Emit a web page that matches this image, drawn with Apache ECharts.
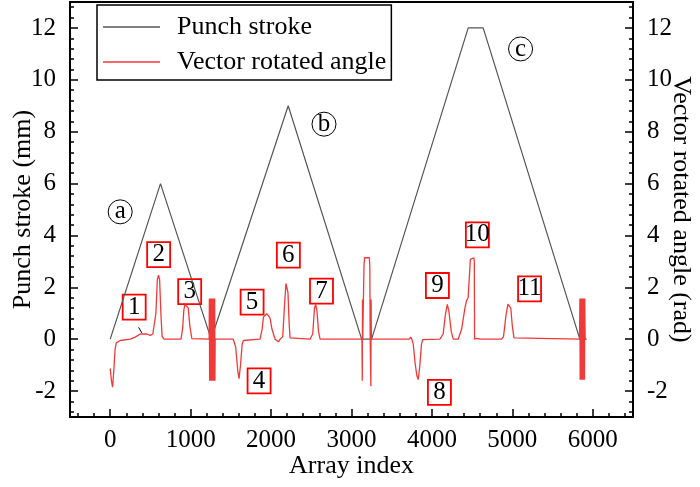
<!DOCTYPE html>
<html>
<head>
<meta charset="utf-8">
<script src="https://cdn.jsdelivr.net/npm/echarts@6/dist/echarts.min.js"></script>
<style>html,body{margin:0;padding:0;background:#fff}#c{width:700px;height:487px}</style>
</head>
<body>
<div id="c"></div>
<script>
// ---- data ----
const punchX = [0, 625, 1255, 2213, 3126, 3250, 4451, 4637, 5839, 5921];
const punchY = [0, 6, 0, 9, 0, 0, 12, 12, 0, 0];

const angleX = [0, 15, 29, 45, 60, 75, 124, 248, 311, 373, 456, 497, 530, 548, 568, 586, 600, 614, 630, 645, 670,
  880, 900, 915, 928, 950, 970, 990, 1015, 1230,
  1233, 1236, 1239, 1242, 1245, 1248, 1251, 1254, 1257, 1260, 1263, 1266, 1269, 1272, 1275, 1278, 1281, 1284, 1287, 1290, 1293, 1296, 1299, 1302,
  1305, 1491, 1511, 1530, 1560, 1585, 1602, 1620, 1640, 1656,
  1863, 1890, 1905, 1946, 1970, 1988, 2010, 2050, 2070, 2091, 2112,
  2145, 2165, 2185, 2195, 2210, 2225, 2236, 2260,
  2484, 2518, 2540, 2555, 2570, 2590, 2609,
  3130, 3134, 3137, 3140, 3143, 3150, 3155, 3162, 3222, 3228, 3232, 3238, 3241, 3244, 3247,
  3720, 3734, 3750, 3768, 3790, 3812, 3830, 3850, 3870, 3884,
  4099, 4140, 4165, 4191, 4210, 4240, 4265, 4286, 4327, 4370, 4410, 4431, 4450, 4478, 4493, 4522, 4527, 4530,
  4560, 4580, 4600, 4866, 4890, 4920, 4945, 4961, 4980, 5000, 5020, 5031, 5835,
  5840, 5843, 5846, 5849, 5852, 5855, 5858, 5861, 5864, 5867, 5870, 5873, 5876, 5879, 5882, 5885, 5888, 5891, 5894, 5897, 5900,
  5905, 5921];
const angleY = [-1.13, -1.6, -1.85, -1.2, -0.4, -0.14, -0.05, 0, 0.08, 0.2, 0.2, 0.15, 0.2, 0.25, 1.0, 2.3, 2.47, 2.3, 1.0, 0.1, 0,
  0, 0.4, 1.1, 1.34, 1.3, 1.2, 0.5, 0.02, 0,
  1.57, -1.6, 1.57, -1.6, 1.57, -1.6, 1.57, -1.6, 1.57, -1.6, 1.57, -1.6, 1.57, -1.6, 1.57, -1.6, 1.57, -1.6, 1.57, -1.6, 1.57, -1.6, 1.57, -1.6,
  0, 0, 0.05, 0, -0.3, -1.2, -1.52, -1.0, -0.2, -0.05,
  0, 0.4, 0.85, 0.98, 0.9, 0.8, 0.4, 0, -0.05, -0.1, 0,
  0.1, 1.2, 2.15, 2.21, 1.8, 0.6, 0.05, 0,
  0, 0.2, 1.2, 1.34, 1.1, 0.3, 0,
  0, -1.6, 1.53, 0, 0, 0, 2.8, 3.14, 3.14, 2.8, 0, 0, -1.81, 1.53, 0,
  0, 0.08, 0, -0.2, -0.9, -1.4, -1.56, -1.0, -0.2, -0.02,
  0, 0.2, 0.9, 1.34, 1.1, 0.3, 0, -0.07, 0, 0.4, 1.2, 1.49, 1.6, 3.08, 3.14, 3.14, 3.0, 0,
  0.03, 0.05, 0, 0, 0.1, 0.9, 1.35, 1.4, 1.2, 0.5, 0.05, 0, 0,
  1.57, -1.56, 1.57, -1.56, 1.57, -1.56, 1.57, -1.56, 1.57, -1.56, 1.57, -1.56, 1.57, -1.56, 1.57, -1.56, 1.57, -1.56, 1.57, -1.56, 1.57,
  0, 0];

const noteText = ['1','2','3','4','5','6','7','8','9','10','11'];
const noteX = [298, 602, 988, 1851, 1764, 2215, 2627, 4093, 4068, 4565, 5214];
const noteY = [1.24, 3.26, 1.83, -1.61, 1.43, 3.24, 1.85, -2.05, 2.07, 4.02, 1.94];

const caseText = ['a', 'b', 'c'];
const caseX = [124, 2658, 5102];
const caseY = [4.91, 8.29, 11.19];

const leaderX = [352, 394];
const leaderY = [0.46, 0.24];

const xMajor = [0, 1000, 2000, 3000, 4000, 5000, 6000];
const yMajor = [-2, 0, 2, 4, 6, 8, 10, 12];

// ---- build ----
const FONT = "'Liberation Serif', 'Times New Roman', serif";
const xMinor = [];
for (let v = -400; v <= 6400; v += 200) if (v % 1000 !== 0) xMinor.push(v);
const yMinor = [];
for (let k = -7; k <= 32; k++) if (k % 5 !== 0) yMinor.push(Math.round(k * 4) / 10);

const zip = (a, b) => a.map((v, i) => [v, b[i]]);
const plain = v => String(v);

function mainY(pos, name, rot, gap) {
  return {
    type: 'value', position: pos, min: -3, max: 13,
    name: name, nameLocation: 'middle', nameGap: gap, nameRotate: rot, nameMoveOverlap: false,
    nameTextStyle: { fontFamily: FONT, fontSize: 26, color: '#000' },
    axisLine: { show: true, onZero: false, lineStyle: { color: '#000', width: 2 } },
    axisTick: { show: true, inside: true, length: 8, customValues: yMajor, lineStyle: { color: '#000', width: 1.5 } },
    axisLabel: { show: true, customValues: yMajor, formatter: plain, margin: 14, fontFamily: FONT, fontSize: 25, color: '#000' },
    splitLine: { show: false }
  };
}
function minorY(pos) {
  return {
    type: 'value', position: pos, min: -3, max: 13,
    axisLine: { show: false, onZero: false },
    axisTick: { show: true, inside: true, length: 4, customValues: yMinor, lineStyle: { color: '#000', width: 1.5 } },
    axisLabel: { show: false }, splitLine: { show: false }
  };
}

const chart = echarts.init(document.getElementById('c'), null, { renderer: 'canvas' });
chart.setOption({
  animation: false,
  backgroundColor: '#fff',
  grid: { left: 70, right: 67, top: 2, bottom: 70, show: true, borderColor: '#000', borderWidth: 2,
          containLabel: false, outerBoundsMode: 'none' },
  legend: {
    data: [{ name: 'Punch stroke', icon: 'rect' }, { name: 'Vector rotated angle', icon: 'rect' }],
    orient: 'vertical', left: 97, top: 5,
    padding: [7, 5, 3, 6], itemWidth: 57, itemHeight: 1.5, itemGap: 5,
    borderColor: '#000', borderWidth: 1.5,
    textStyle: { fontFamily: FONT, fontSize: 26, color: '#000', padding: [0, 0, 0, 12], lineHeight: 30 }
  },
  xAxis: [{
    type: 'value', min: -500, max: 6500,
    name: 'Array index', nameLocation: 'middle', nameGap: 36, nameMoveOverlap: false,
    nameTextStyle: { fontFamily: FONT, fontSize: 26, color: '#000' },
    axisLine: { show: true, onZero: false, lineStyle: { color: '#000', width: 2 } },
    axisTick: { show: true, inside: true, length: 8, customValues: xMajor, lineStyle: { color: '#000', width: 1.5 } },
    axisLabel: { show: true, customValues: xMajor, formatter: plain, margin: 11, fontFamily: FONT, fontSize: 25, color: '#000' },
    splitLine: { show: false }
  }, {
    type: 'value', position: 'bottom', min: -500, max: 6500,
    axisLine: { show: false, onZero: false },
    axisTick: { show: true, inside: true, length: 4, customValues: xMinor, lineStyle: { color: '#000', width: 1.5 } },
    axisLabel: { show: false }, splitLine: { show: false }
  }],
  yAxis: [mainY('left', 'Punch stroke (mm)', 90, 34), mainY('right', 'Vector rotated angle (rad)', -90, 35), minorY('left'), minorY('right')],
  series: [{
    name: 'Punch stroke', type: 'line', xAxisIndex: 0, yAxisIndex: 0,
    data: zip(punchX, punchY), symbol: 'none',
    lineStyle: { color: '#555', width: 1.2 }, itemStyle: { color: '#555' }
  }, {
    name: 'Vector rotated angle', type: 'line', xAxisIndex: 0, yAxisIndex: 1,
    data: zip(angleX, angleY), symbol: 'none',
    lineStyle: { color: '#f03a3a', width: 1.3 }, itemStyle: { color: '#f03a3a' }
  }, {
    name: 'leader', type: 'line', xAxisIndex: 0, yAxisIndex: 1,
    data: zip(leaderX, leaderY), symbol: 'none',
    lineStyle: { color: '#000', width: 1 }
  }, {
    name: 'notes', type: 'scatter', xAxisIndex: 0, yAxisIndex: 1,
    symbolSize: 0,
    data: noteText.map((t, i) => ({ name: t, value: [noteX[i], noteY[i]] })),
    label: {
      show: true, position: 'inside', formatter: '{b}',
      fontFamily: FONT, fontSize: 25, color: '#000', opacity: 1,
      width: 23, height: 24, lineHeight: 25, align: 'center', verticalAlign: 'middle',
      padding: [1, 0, 0, 0], borderColor: '#f00', borderWidth: 1.8
    }
  }, {
    name: 'cases', type: 'scatter', xAxisIndex: 0, yAxisIndex: 0,
    symbolSize: 0,
    data: caseText.map((t, i) => ({ name: t, value: [caseX[i], caseY[i]] })),
    label: {
      show: true, position: 'inside', formatter: '{b}',
      fontFamily: FONT, fontSize: 25, color: '#000', opacity: 1,
      width: 24, height: 24, lineHeight: 22, align: 'center', verticalAlign: 'middle',
      borderColor: '#000', borderWidth: 1, borderRadius: 12
    }
  }]
});
</script>
</body>
</html>
